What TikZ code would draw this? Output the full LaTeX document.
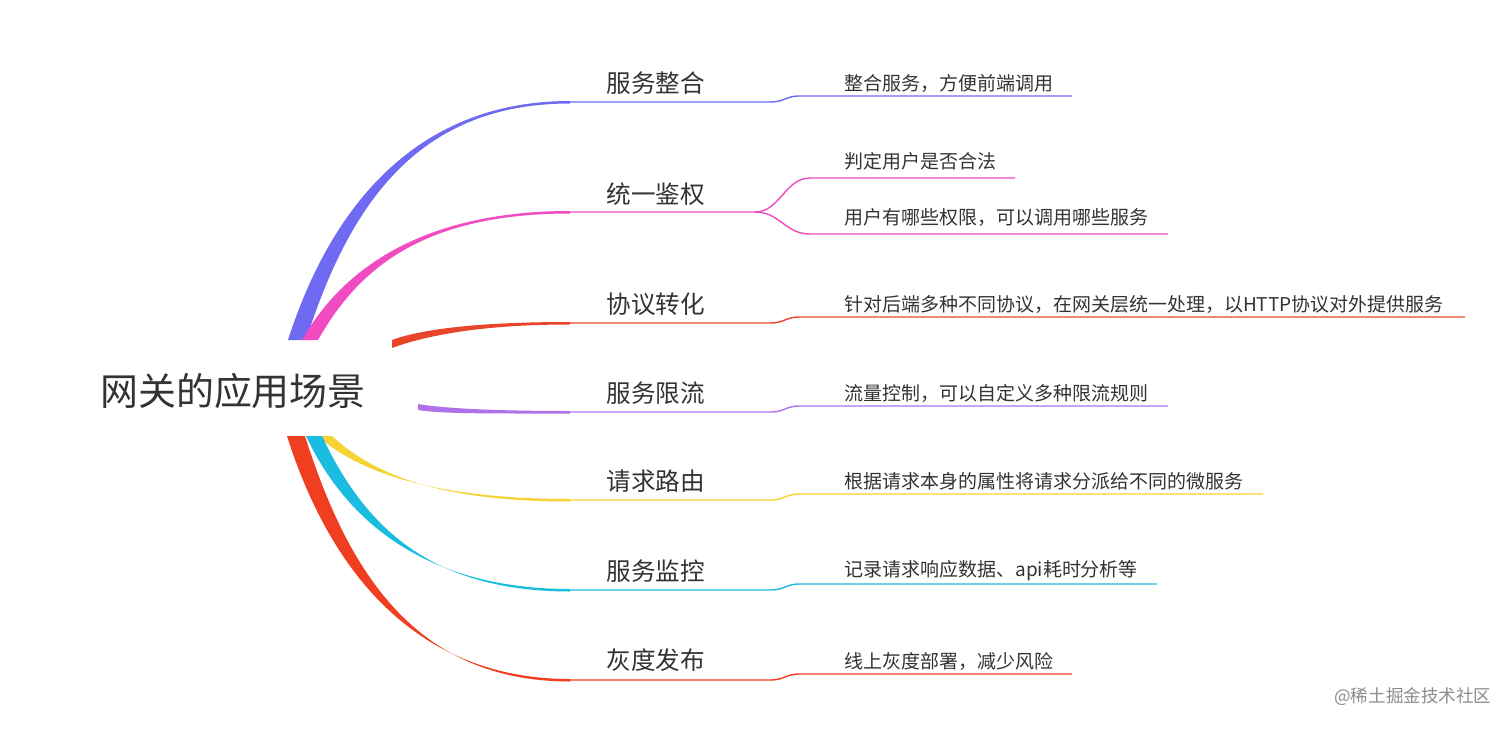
\documentclass[tikz,border=0pt]{standalone}
\usepackage{fontspec}
\setmainfont{Noto Sans CJK SC}
\definecolor{c1}{HTML}{6E6AF2}
\definecolor{c2}{HTML}{F04BC0}
\definecolor{c3}{HTML}{E8452A}
\definecolor{c4}{HTML}{B071E8}
\definecolor{c5}{HTML}{F6D232}
\definecolor{c6}{HTML}{1ABCE0}
\definecolor{c7}{HTML}{F03E20}
\definecolor{tx}{HTML}{333333}
\newcommand\br[7]{%
 \pgfmathsetmacro\dx{#4-#2}\pgfmathsetmacro\dy{#5-#3}%
 \pgfmathsetmacro\ax{#2+0.15*\dx}\pgfmathsetmacro\ay{#3+0.55*\dy}%
 \pgfmathsetmacro\bx{#2+0.45*\dx}%
 \fill[#1] (#2,#3) .. controls (\ax,\ay) and (\bx,#5) .. (#4,#5) -- (#4,#5+2.5)
   .. controls (\bx,#5+2.5) and (\ax+#6,\ay+#7) .. (#2+#6,#3+#7) -- cycle;}
\newcommand\leaf[4]{% color, y, end, text
 \draw[#1,line width=2pt] (570,#2+1) -- (770,#2+1) .. controls (785,#2+1) and (785,#2-5) .. (800,#2-5) -- (#3,#2-5);
 \node[lf,anchor=south west] at (843,#2-7) {#4};}
\tikzset{lf/.style={font=\fontsize{27}{31}\selectfont,text=tx,inner sep=2pt},
 bl/.style={font=\fontsize{35}{40}\selectfont,text=tx,anchor=south west,inner sep=2pt}}
\begin{document}
\begin{tikzpicture}[x=0.05cm,y=-0.05cm]
\useasboundingbox (0,0) rectangle (1512,730);
\node[font=\fontsize{54}{62}\selectfont,text=tx] (root) at (233,391) {网关的应用场景};
\br{c1}{288}{340}{570}{101}{18}{0}
\br{c2}{302}{340}{570}{211}{16}{0}
\br{c3}{392}{340}{570}{322}{0}{8}
\br{c4}{418}{404}{570}{411}{0}{6}
\br{c5}{318}{436}{570}{499}{14}{0}
\br{c6}{306}{436}{570}{589}{16}{0}
\br{c7}{287}{436}{570}{679}{18}{0}
\leaf{c1}{101}{1072}{整合服务，方便前端调用}
\leaf{c3}{322}{1465}{针对后端多种不同协议，在网关层统一处理，以HTTP协议对外提供服务}
\leaf{c4}{411}{1168}{流量控制，可以自定义多种限流规则}
\leaf{c5}{499}{1263}{根据请求本身的属性将请求分派给不同的微服务}
\leaf{c6}{589}{1157}{记录请求响应数据、api耗时分析等}
\leaf{c7}{679}{1072}{线上灰度部署，减少风险}
\draw[c2,line width=2pt] (570,212) -- (755,212) .. controls (780,212) and (785,178) .. (810,178) -- (1015,178);
\draw[c2,line width=2pt] (755,212) .. controls (780,212) and (785,234) .. (810,234) -- (1168,234);
\node[lf,anchor=south west] at (843,172) {判定用户是否合法};
\node[lf,anchor=south west] at (843,228) {用户有哪些权限，可以调用哪些服务};
\node[bl] at (605,96) {服务整合};
\node[bl] at (605,207) {统一鉴权};
\node[bl] at (605,317) {协议转化};
\node[bl] at (605,406) {服务限流};
\node[bl] at (605,494) {请求路由};
\node[bl] at (605,584) {服务监控};
\node[bl] at (605,673) {灰度发布};
\node[font=\fontsize{25}{29}\selectfont,text=black!45,anchor=east] at (1494,697) {@稀土掘金技术社区};
\end{tikzpicture}
\end{document}
